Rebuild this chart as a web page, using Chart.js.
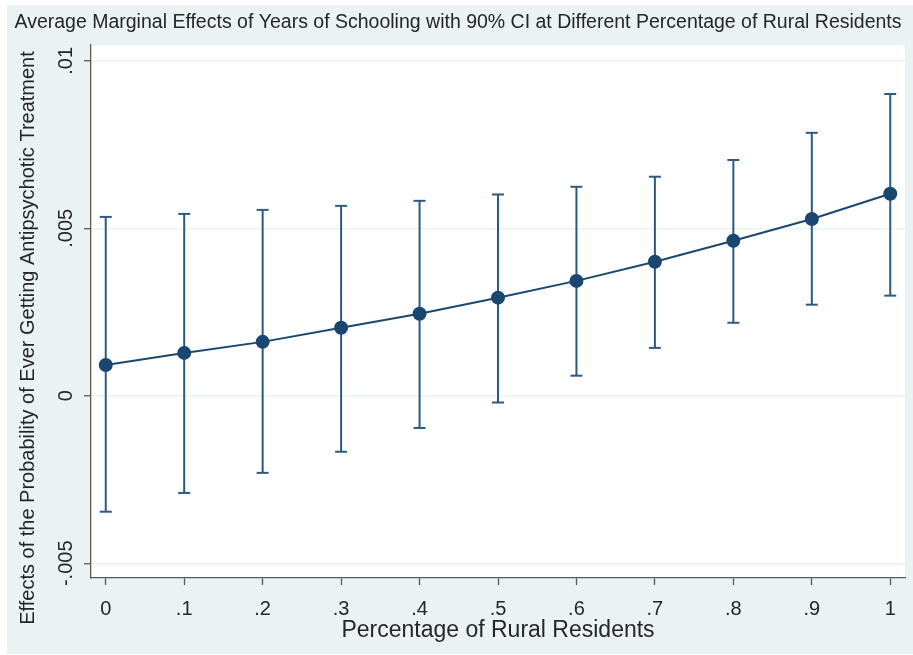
<!DOCTYPE html>
<html>
<head>
<meta charset="utf-8">
<script src="https://cdn.jsdelivr.net/npm/chart.js@4/dist/chart.umd.min.js"></script>
<style>
  html, body { margin: 0; padding: 0; background: #ffffff; }
  #wrap { width: 913px; height: 655px; }
  canvas { display: block; }
</style>
</head>
<body>
<div id="wrap"><canvas id="c" width="913" height="655"></canvas></div>
<script>
// Share of rural residents (x) and the average marginal effect of schooling
const shareRural = [0, 0.1, 0.2, 0.3, 0.4, 0.5, 0.6, 0.7, 0.8, 0.9, 1];
const marginalEffect = [0.00092, 0.00128, 0.00161, 0.00203, 0.00245, 0.00293, 0.00343, 0.00400, 0.00463, 0.00528, 0.00603];
// 90% confidence interval bounds
const ciUpper = [0.00534, 0.00543, 0.00555, 0.00567, 0.00582, 0.00601, 0.00624, 0.00654, 0.00704, 0.00785, 0.00901];
const ciLower = [-0.00346, -0.00290, -0.00230, -0.00167, -0.00096, -0.00020, 0.00060, 0.00143, 0.00218, 0.00272, 0.00299];

// Axis ticks and their labels
const xTickValues = [0, 0.1, 0.2, 0.3, 0.4, 0.5, 0.6, 0.7, 0.8, 0.9, 1];
const xTickLabels = ['0', '.1', '.2', '.3', '.4', '.5', '.6', '.7', '.8', '.9', '1'];
const yTickValues = [-0.005, 0, 0.005, 0.01];
const yTickLabels = ['-.005', '0', '.005', '.01'];

// Titles
const chartTitle = 'Average Marginal Effects of Years of Schooling with 90% CI at Different Percentage of Rural Residents';
const xTitle = 'Percentage of Rural Residents';
const yTitle = 'Effects of the Probability of Ever Getting Antipsychotic Treatment';

const NAVY = '#1a476f';
const BAR = '#2c5a83';
const FONT = '"Liberation Sans", Arial, Helvetica, sans-serif';
const TEXT = '#262626';

// vertical CI segments, separated by gaps
const stemPoints = [];
shareRural.forEach((x, i) => {
  stemPoints.push({ x: x, y: ciLower[i] });
  stemPoints.push({ x: x, y: ciUpper[i] });
  stemPoints.push({ x: x, y: null });
});
// horizontal caps at both ends of each interval
const capPoints = [];
shareRural.forEach((x, i) => {
  capPoints.push({ x: x, y: ciLower[i] });
  capPoints.push({ x: x, y: ciUpper[i] });
});
const estimatePoints = shareRural.map((x, i) => ({ x: x, y: marginalEffect[i] }));

const backgroundPlugin = {
  id: 'stataBackground',
  beforeDraw(chart) {
    const { ctx, chartArea: a } = chart;
    ctx.save();
    ctx.fillStyle = '#ffffff';
    ctx.fillRect(0, 0, chart.width, chart.height);
    ctx.fillStyle = '#eaf2f3';
    ctx.fillRect(7, 5, chart.width - 7, chart.height - 6);
    ctx.fillStyle = '#ffffff';
    ctx.fillRect(a.left, a.top, a.right - a.left, a.bottom - a.top);
    ctx.restore();
  }
};

const textPlugin = {
  id: 'stataText',
  afterDraw(chart) {
    const { ctx, chartArea: a } = chart;
    const xs = chart.scales.x, ys = chart.scales.y;
    ctx.save();
    ctx.fillStyle = TEXT;
    ctx.textBaseline = 'alphabetic';

    // chart title
    ctx.font = '19.5px ' + FONT;
    ctx.textAlign = 'center';
    ctx.fillText(chartTitle, 458, 28);

    // x tick labels
    ctx.font = '20px ' + FONT;
    xs.ticks.forEach((t) => {
      const idx = xTickValues.indexOf(t.value);
      if (idx < 0) return;
      ctx.fillText(xTickLabels[idx], xs.getPixelForValue(t.value), 615);
    });

    // x axis title
    ctx.font = '23px ' + FONT;
    ctx.fillText(xTitle, (a.left + a.right) / 2, 637);

    // y tick labels, rotated
    ctx.font = '20px ' + FONT;
    ys.ticks.forEach((t) => {
      const idx = yTickValues.indexOf(t.value);
      if (idx < 0) return;
      ctx.save();
      ctx.translate(72, ys.getPixelForValue(t.value));
      ctx.rotate(-Math.PI / 2);
      ctx.textAlign = 'center';
      ctx.fillText(yTickLabels[idx], 0, 0);
      ctx.restore();
    });

    // y axis title, rotated
    ctx.font = '20px ' + FONT;
    ctx.save();
    ctx.translate(34, 338);
    ctx.rotate(-Math.PI / 2);
    ctx.textAlign = 'center';
    ctx.fillText(yTitle, 0, 0);
    ctx.restore();

    ctx.restore();
  }
};

new Chart(document.getElementById('c'), {
  type: 'line',
  data: {
    datasets: [
      {
        label: 'Estimate',
        data: estimatePoints,
        order: 0,
        borderColor: NAVY,
        borderWidth: 2,
        pointRadius: 7,
        pointBackgroundColor: NAVY,
        pointBorderColor: NAVY,
        pointBorderWidth: 0,
        tension: 0
      },
      {
        label: 'CI caps',
        type: 'scatter',
        data: capPoints,
        order: 1,
        showLine: false,
        pointStyle: 'line',
        pointRadius: 6,
        borderColor: BAR,
        borderWidth: 2
      },
      {
        label: '90% CI',
        data: stemPoints,
        order: 2,
        borderColor: BAR,
        borderWidth: 2,
        pointRadius: 0,
        spanGaps: false
      }
    ]
  },
  options: {
    responsive: false,
    animation: false,
    devicePixelRatio: 1,
    layout: { padding: { top: 45, right: 6, left: 0, bottom: 0 } },
    plugins: { legend: { display: false }, tooltip: { enabled: false }, title: { display: false } },
    scales: {
      x: {
        type: 'linear',
        min: -0.0188,
        max: 1.0188,
        afterBuildTicks: (s) => { s.ticks = xTickValues.map((v) => ({ value: v })); },
        afterFit: (s) => { s.height = 77; },
        ticks: { display: false },
        grid: { drawOnChartArea: false, drawTicks: true, tickLength: 7, tickColor: '#5a5a5a', tickWidth: 1.3 },
        border: { display: true, color: '#5a5a5a', width: 1.3 }
      },
      y: {
        type: 'linear',
        min: -0.005439,
        max: 0.010472,
        afterBuildTicks: (s) => { s.ticks = yTickValues.map((v) => ({ value: v })); },
        afterFit: (s) => { s.width = 91; },
        ticks: { display: false },
        grid: { drawOnChartArea: true, color: '#eaf2f3', lineWidth: 1.5, drawTicks: true, tickLength: 7, tickColor: '#5a5a5a', tickWidth: 1.3 },
        border: { display: true, color: '#5a5a5a', width: 1.3 }
      }
    }
  },
  plugins: [backgroundPlugin, textPlugin]
});
</script>
</body>
</html>
